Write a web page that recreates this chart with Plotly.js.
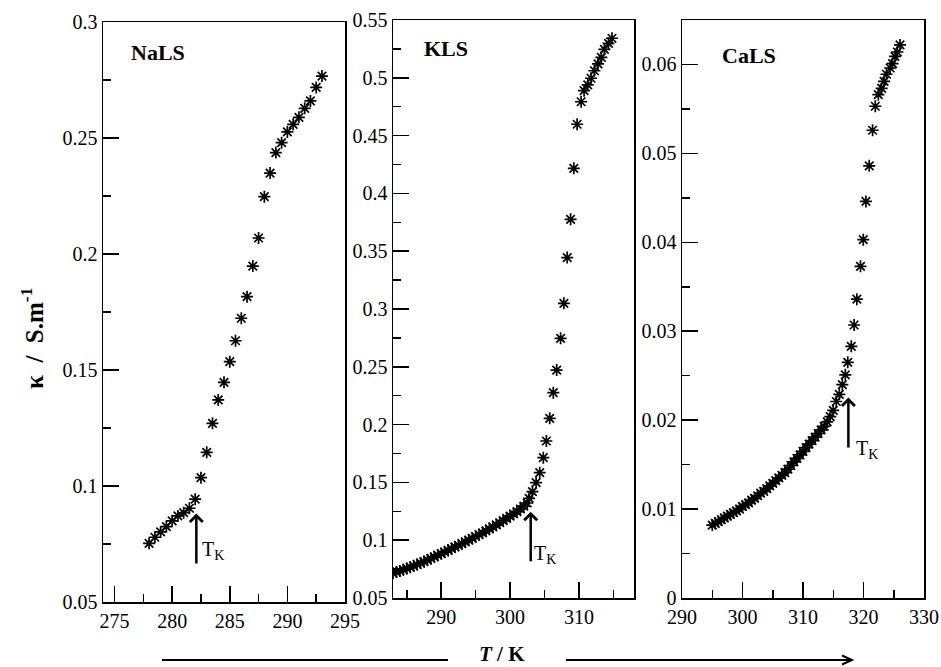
<!DOCTYPE html>
<html>
<head>
<meta charset="utf-8">
<script src="https://cdn.plot.ly/plotly-3.0.1.min.js"></script>
<style>html,body{margin:0;padding:0;background:#fff;}#chart{width:941px;height:667px;}</style>
</head>
<body>
<div id="chart"></div>
<script>
// ---------- DATA ----------
// NaLS: temperature (K) and conductivity (S/m)
const naT = [278,278.5,279,279.5,280,280.5,281,281.5,282,282.5,283,283.5,284,284.5,285,285.5,286,286.5,287,287.5,288,288.5,289,289.5,290,290.5,291,291.5,292,292.5,293];
const naK = [0.0753,0.0779,0.0802,0.0825,0.0850,0.0871,0.0885,0.0904,0.0943,0.1036,0.1145,0.1270,0.1371,0.1447,0.1536,0.1626,0.1723,0.1816,0.1948,0.2069,0.2247,0.2349,0.2437,0.2480,0.2526,0.2559,0.2589,0.2628,0.2660,0.2718,0.2767];

// KLS
const kT = [283,283.5,284,284.5,285,285.5,286,286.5,287,287.5,288,288.5,289,289.5,290,290.5,291,291.5,292,292.5,293,293.5,294,294.5,295,295.5,296,296.5,297,297.5,298,298.5,299,299.5,300,300.5,301,301.5,302,302.5,
  302.77,303.25,303.78,304.31,304.83,305.27,305.76,306.28,306.77,307.34,307.82,308.3,308.79,309.26,309.74,310.32,310.75,311.28,311.76,312.25,312.77,313.26,313.7,314.3,314.8];
const kK = [0.0714,0.0724,0.0734,0.0745,0.0756,0.0767,0.0778,0.0790,0.0802,0.0815,0.0828,0.0842,0.0856,0.0870,0.0884,0.0898,0.0912,0.0927,0.0942,0.0956,0.0971,0.0986,0.1001,0.1016,0.1032,0.1048,0.1064,0.1081,0.1098,0.1115,0.1133,0.1151,0.1170,0.1189,0.1208,0.1228,0.1248,0.1270,0.1294,0.1322,
  0.1362,0.1420,0.1498,0.1584,0.1714,0.1858,0.2054,0.2276,0.2472,0.2746,0.3049,0.3445,0.3776,0.4217,0.4598,0.4793,0.4889,0.4938,0.4996,0.5061,0.5120,0.5177,0.5246,0.5298,0.5342];

// CaLS
const caT = [295,295.5,296,296.5,297,297.5,298,298.5,299,299.5,300,300.5,301,301.5,302,302.5,303,303.5,304,304.5,305,305.5,306,306.5,307,307.5,308,308.5,309,309.5,310,310.5,311,311.5,312,312.5,313,313.5,314,314.5,315,315.5,316,316.5,
  316.99,317.4,317.98,318.45,318.9,319.5,319.96,320.4,320.95,321.5,321.95,322.45,323.0,323.4,323.8,324.4,324.8,325.2,325.6,326.03];
const caK = [0.0082,0.0084,0.0086,0.0088,0.0090,0.0092,0.0094,0.0096,0.0098,0.0100,0.0103,0.0105,0.0107,0.0110,0.0112,0.0115,0.0118,0.0120,0.0123,0.0126,0.0129,0.0132,0.0135,0.0138,0.0141,0.0145,0.0149,0.0153,0.0157,0.0161,0.0165,0.0169,0.0173,0.0177,0.0181,0.0185,0.0189,0.0193,0.0198,0.0204,0.0211,0.0221,0.0229,0.0240,
  0.0251,0.0265,0.0283,0.0307,0.0336,0.0373,0.0403,0.0446,0.0486,0.0526,0.0553,0.0566,0.0573,0.0581,0.0589,0.0596,0.0601,0.0609,0.0614,0.0622];

// Krafft temperature arrows: [T, kappa tail, kappa tip]
const tkNa = [282.1, 0.066, 0.0882];
const tkK  = [303.0, 0.0805, 0.1247];
const tkCa = [317.5, 0.01676, 0.02254];

const panelNames = ['NaLS', 'KLS', 'CaLS'];
const yTitle = 'κ  /  S.m<sup>-1</sup>';
const xTitle = '<i>T</i> / K';

// ---------- LAYOUT ----------
const W = 941, H = 667;
const px = x => x / W;
const py = y => 1 - y / H;
const FONT = 'Liberation Serif, Times New Roman, Times, serif';

function mk(T, K, xa, ya) {
  return {
    x: T, y: K, xaxis: xa, yaxis: ya, type: 'scatter', mode: 'markers',
    marker: {symbol: 'asterisk-open', size: 10, color: 'black', line: {color: 'black', width: 1.7}},
    hoverinfo: 'skip'
  };
}
const data = [mk(naT, naK, 'x', 'y'), mk(kT, kK, 'x2', 'y2'), mk(caT, caK, 'x3', 'y3')];

function ax(extra) {
  return Object.assign({
    showline: true, linecolor: 'black', linewidth: 1.5, mirror: true,
    ticks: 'inside', ticklen: 16, tickwidth: 1.5, tickcolor: 'black',
    showgrid: false, zeroline: false, fixedrange: true,
    tickfont: {family: FONT, size: 20, color: 'black'}
  }, extra);
}
function minor(dt, t0) {
  return {dtick: dt, tick0: t0, ticks: 'inside', ticklen: 8, tickwidth: 1.5, tickcolor: 'black', showgrid: false};
}

const layout = {
  width: W, height: H,
  margin: {l: 0, r: 0, t: 0, b: 0},
  paper_bgcolor: 'white', plot_bgcolor: 'white',
  showlegend: false,
  font: {family: FONT, color: 'black'},
  xaxis: ax({domain: [px(103), px(345)], anchor: 'y', range: [274, 295], dtick: 5, tick0: 275, minor: minor(2.5, 275)}),
  yaxis: ax({domain: [py(602), py(22)], anchor: 'x', range: [0.05, 0.3], dtick: 0.05, tick0: 0.05, minor: minor(0.025, 0.05)}),
  xaxis2: ax({domain: [px(393), px(634)], anchor: 'y2', range: [283, 318], dtick: 10, tick0: 290, minor: minor(5, 285)}),
  yaxis2: ax({domain: [py(598), py(20)], anchor: 'x2', range: [0.05, 0.55], dtick: 0.05, tick0: 0.05, minor: minor(0.025, 0.05)}),
  xaxis3: ax({domain: [px(682), px(924)], anchor: 'y3', range: [290, 330], dtick: 10, tick0: 290, minor: minor(5, 290)}),
  yaxis3: ax({domain: [py(598), py(20)], anchor: 'x3', range: [0, 0.065], dtick: 0.01, tick0: 0, minor: minor(0.005, 0)}),
  annotations: [],
  shapes: []
};

// panel labels
const labelPos = [[129, 52.5], [422, 48.5], [720, 55.5]];
panelNames.forEach((n, i) => {
  layout.annotations.push({
    text: '<b>' + n + '</b>', xref: 'paper', yref: 'paper',
    x: px(labelPos[i][0]), y: py(labelPos[i][1]), xanchor: 'left', yanchor: 'middle',
    showarrow: false, font: {family: FONT, size: 22, color: 'black'}
  });
});

// T_K arrows and labels
const tks = [[tkNa, 'x', 'y', 282.45, 0.0724], [tkK, 'x2', 'y2', 303.2, 0.0876], [tkCa, 'x3', 'y3', 318.5, 0.01671]];
tks.forEach(([tk, xa, ya, lx, ly]) => {
  layout.annotations.push({
    text: '', xref: xa, yref: ya, axref: xa, ayref: ya,
    x: tk[0], y: tk[2], ax: tk[0], ay: tk[1],
    showarrow: true, arrowhead: 4, arrowsize: 1, arrowwidth: 2.5, arrowcolor: 'black', standoff: 0, startstandoff: 0
  });
  layout.annotations.push({
    text: 'T<sub>K</sub>', xref: xa, yref: ya, x: lx, y: ly,
    xanchor: 'left', yanchor: 'middle', showarrow: false,
    font: {family: FONT, size: 20, color: 'black'}
  });
});

// axis titles
layout.annotations.push({
  text: '<b>' + yTitle + '</b>', xref: 'paper', yref: 'paper',
  x: px(32), y: py(338), xanchor: 'center', yanchor: 'middle', textangle: -90,
  showarrow: false, font: {family: FONT, size: 25, color: 'black'}
});
layout.annotations.push({
  text: '<b>' + xTitle + '</b>', xref: 'paper', yref: 'paper',
  x: px(502), y: py(654), xanchor: 'center', yanchor: 'middle',
  showarrow: false, font: {family: FONT, size: 21, color: 'black'}
});

// bottom arrow lines
const lineStyle = {color: 'black', width: 2};
layout.shapes.push({type: 'line', xref: 'paper', yref: 'paper', x0: px(162), x1: px(448), y0: py(660), y1: py(660), line: lineStyle});
layout.shapes.push({type: 'line', xref: 'paper', yref: 'paper', x0: px(566), x1: px(852), y0: py(660), y1: py(660), line: lineStyle});
layout.shapes.push({type: 'path', xref: 'paper', yref: 'paper',
  path: 'M' + px(842) + ',' + py(655.5) + ' L' + px(852) + ',' + py(660) + ' L' + px(842) + ',' + py(664.5),
  line: lineStyle});

Plotly.newPlot('chart', data, layout, {displayModeBar: false, staticPlot: true});
</script>
</body>
</html>
